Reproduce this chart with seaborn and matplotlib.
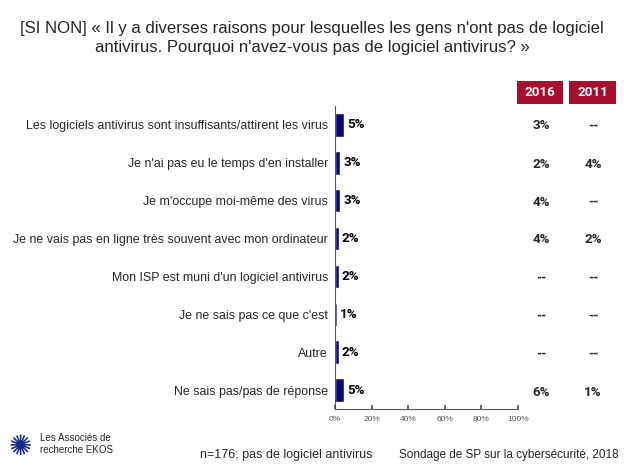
import matplotlib
matplotlib.use("Agg")
import matplotlib.pyplot as plt
import seaborn as sns
import pandas as pd
from matplotlib.patches import Rectangle
from matplotlib.ticker import FuncFormatter

categories = [
    "Les logiciels antivirus sont insuffisants/attirent les virus",
    "Je n'ai pas eu le temps d'en installer",
    "Je m'occupe moi-même des virus",
    "Je ne vais pas en ligne très souvent avec mon ordinateur",
    "Mon ISP est muni d'un logiciel antivirus",
    "Je ne sais pas ce que c'est",
    "Autre",
    "Ne sais pas/pas de réponse",
]
values_2018 = [5, 3, 3, 2, 2, 1, 2, 5]
col_2016 = ["3%", "2%", "4%", "4%", "--", "--", "--", "6%"]
col_2011 = ["--", "4%", "--", "2%", "--", "--", "--", "1%"]
header_years = ["2016", "2011"]
x_ticks = [0, 20, 40, 60, 80, 100]

sns.set_theme(style="white")
plt.rcParams["font.family"] = ["Liberation Sans", "DejaVu Sans"]
NUMFONT = ["Roboto", "DejaVu Sans"]

df = pd.DataFrame({"cat": categories, "val": values_2018})

fig = plt.figure(figsize=(6.24, 4.68), dpi=100)
ax = fig.add_axes([335 / 624, 1 - 409 / 468, 183 / 624, 303 / 468])
sns.barplot(data=df, x="val", y="cat", orient="h", color="#0a0a78",
            width=0.62, ax=ax, saturation=1)
ax.set_xlim(0, 100)
ax.set_xlabel("")
ax.set_ylabel("")
ax.set_xticks(x_ticks)
ax.xaxis.set_major_formatter(FuncFormatter(lambda v, p: f"{int(v)}%"))
ax.tick_params(axis="x", labelsize=6, labelcolor="#555555", length=3,
               direction="in", color="#555555", bottom=True, pad=5)
ax.tick_params(axis="y", labelsize=8.9, length=0, pad=5)
for sp in ["top", "right"]:
    ax.spines[sp].set_visible(False)
for sp in ["left", "bottom"]:
    ax.spines[sp].set_visible(True)
    ax.spines[sp].set_color("#555555")
    ax.spines[sp].set_linewidth(0.8)

for i, v in enumerate(values_2018):
    ax.text(v + 1.8, i, f"{v}%", va="center", ha="left", fontsize=9.6,
            fontweight="bold", color="black", family=NUMFONT)

# side columns
for i, (a, b) in enumerate(zip(col_2016, col_2011)):
    y_pix = 126 + i * 38
    fy = 1 - y_pix / 468
    fig.text(541 / 624, fy, a, ha="center", va="center", fontsize=9.6,
             fontweight="bold", family=NUMFONT)
    fig.text(593 / 624, fy, b, ha="center", va="center", fontsize=9.6,
             fontweight="bold", family=NUMFONT)

# header boxes
for x0, x1, yr in [(517, 563, header_years[0]), (569, 616, header_years[1])]:
    fig.patches.append(Rectangle((x0 / 624, 1 - 104 / 468), (x1 - x0) / 624, 23 / 468,
                                 transform=fig.transFigure, facecolor="#A50E2D",
                                 edgecolor="none"))
    fig.text((x0 + x1) / 2 / 624, 1 - 92.5 / 468, yr, ha="center", va="center",
             fontsize=9.6, fontweight="bold", color="white", family=NUMFONT)

fig.text(0.5, 1 - 38 / 468,
         "[SI NON] « Il y a diverses raisons pour lesquelles les gens n'ont pas de logiciel\nantivirus. Pourquoi n'avez-vous pas de logiciel antivirus? »",
         ha="center", va="center", fontsize=12.1, linespacing=1.35)

fig.text(200 / 624, 1 - 455 / 468, "n=176; pas de logiciel antivirus",
         ha="left", va="center", fontsize=9)
fig.text(619 / 624, 1 - 455 / 468, "Sondage de SP sur la cybersécurité, 2018",
         ha="right", va="center", fontsize=8.5)
fig.text(40 / 624, 1 - 444 / 468, "Les Associés de\nrecherche EKOS",
         ha="left", va="center", fontsize=7, linespacing=1.15)
fig.text(20 / 624, 1 - 447 / 468, "✺", ha="center", va="center", fontsize=20,
         color="#1a2a8a", family=["DejaVu Sans"])

fig.savefig("out.png", dpi=100)
